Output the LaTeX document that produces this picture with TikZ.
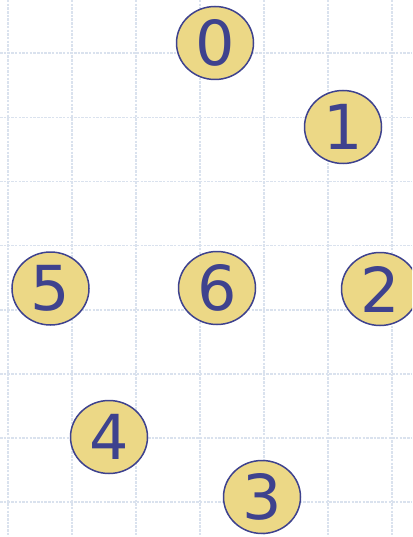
\documentclass[tikz,border=0pt]{standalone}
\usepackage{fontspec}
\setmainfont{DejaVu Sans}
\definecolor{gridc}{RGB}{218,226,238}
\definecolor{nodefill}{RGB}{236,216,134}
\definecolor{nodeline}{RGB}{62,66,142}
\usetikzlibrary{shapes.geometric}
\begin{document}
\begin{tikzpicture}[x=1pt,y=-1pt,
  gridline/.style={draw=gridc,line width=1.8pt,dash pattern=on 2.5pt off 1.2pt},
  vnode/.style={ellipse,draw=nodeline,fill=nodefill,line width=1.5pt,
    minimum width=77pt,minimum height=73pt,inner sep=0pt,
    text=nodeline,font=\fontsize{62}{62}\selectfont}]
\useasboundingbox (0,0) rectangle (412,537);
\clip (0,0) rectangle (412,537);
\foreach \x in {8,72,136,200,264,328,392} \draw[gridline] (\x,0) -- (\x,537);
\foreach \y in {53,117.5,181.5,245.5,310,374,438,502} \draw[gridline] (0,\y) -- (412,\y);
\node[vnode] (n0) at (215,43) {0};
\node[vnode] (n1) at (343,127) {1};
\node[vnode] (n2) at (380,289) {2};
\node[vnode] (n3) at (262,497) {3};
\node[vnode] (n4) at (109,437) {4};
\node[vnode] (n5) at (50.5,288.5) {5};
\node[vnode] (n6) at (217,288) {6};
\end{tikzpicture}
\end{document}
